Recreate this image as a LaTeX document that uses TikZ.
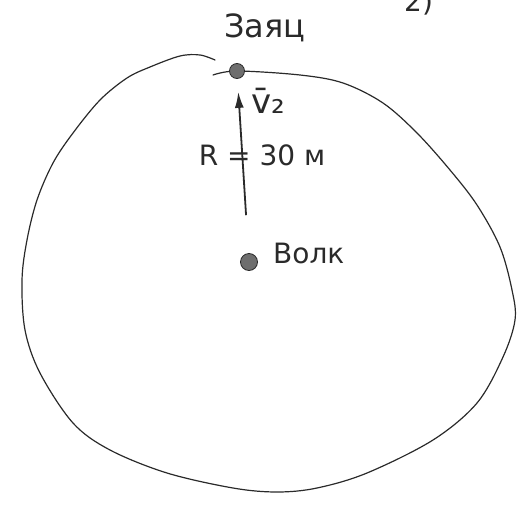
\documentclass[tikz,border=0pt]{standalone}
\usepackage{fontspec}
\setmainfont{DejaVu Sans}
\usetikzlibrary{arrows.meta}
\definecolor{ink}{HTML}{2A2A2A}
\definecolor{dotgray}{HTML}{6E6E6E}
\tikzset{
  every node/.style={text=ink},
  edge/.style={draw=ink, line width=1.2pt, line cap=round},
  arr/.style={-{Latex[length=16pt,width=9pt]}, draw=ink, line width=1.8pt},
  pt/.style={circle, draw=ink, line width=0.8pt, fill=dotgray, inner sep=0pt, minimum size=#1},
  pt/.default=15pt,
  lab/.style={font=\fontsize{28}{32}\selectfont, inner sep=1pt},
}

\begin{document}
\begin{tikzpicture}[x=1pt,y=-1pt]
\useasboundingbox (0,0) rectangle (524,506);

% ---------------- track ----------------
\draw[edge] plot[smooth, tension=0.55] coordinates {
  (213,75) (237,71) (300,75) (343,83) (383,103) (417,133) (450,170)
  (477,205) (500,247) (512,290) (515,320) (503,357) (477,403) (433,440)
  (367,473) (317,488) (277,492) (233,488) (167,473) (110,450) (73,423)
  (40,373) (25,330) (22,280) (27,240) (37,200) (53,163) (73,133)
  (100,100) (127,78) (150,67) (180,56) (200,55) (215,60)};

% ---------------- points ----------------
\node[pt=15pt] (hare) at (237,71) {};
\node[pt=17pt] (wolf) at (249,262) {};

\node[lab, font=\fontsize{32}{36}\selectfont] (harelab) at (265,28) {Заяц};
\node[lab, anchor=west] (wolflab) at (272,253) {Волк};
\node[lab, font=\fontsize{34}{38}\selectfont] (vel) at (268,101) {v̄₂};
\node[lab] (rad) at (262,155) {R = 30 м};
\node[lab, anchor=base west] (num) at (403,12) {2)};

% ---------------- arrows ----------------
\draw[arr, shorten <=38pt, shorten >=13pt] (wolf) -- (hare);

\end{tikzpicture}
\end{document}
